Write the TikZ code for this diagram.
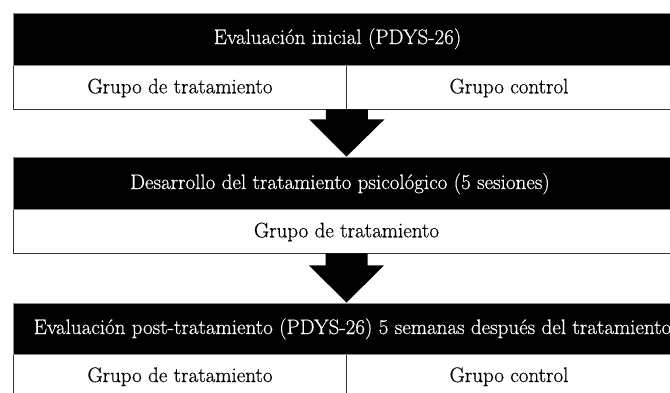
\documentclass[tikz,border=0pt]{standalone}
\usepackage{fontspec}
\setmainfont{Latin Modern Roman}[FakeBold=0.5]
\usetikzlibrary{calc}
\begin{document}
\begin{tikzpicture}[x=1pt,y=-1pt,
  bar/.style={fill=black, draw=black!45, line width=0.8pt, inner sep=0pt, minimum width=667},
  cell/.style={fill=white, draw=black!80, line width=0.8pt, inner sep=0pt},
  ttl/.style={text=white, anchor=base, inner sep=0pt, font=\fontsize{21}{24}\selectfont},
  lbl/.style={text=black, anchor=base, inner sep=0pt, font=\fontsize{21}{24}\selectfont},
  fatarrow/.style={fill=black}]
\useasboundingbox (0,0) rectangle (670,392);
\clip (0,0) rectangle (670,392);
% box 1
\node[cell, minimum width=333.5, minimum height=44] (c1l) at (179.75,87) {};
\node[cell, minimum width=333.5, minimum height=44] (c1r) at (513.25,87) {};
\node[bar, minimum height=52] (bar1) at (346.5,39) {};
\node[ttl] (t1) at (337.5,44) {Evaluación inicial (PDYS-26)};
\node[lbl] (l1a) at (180,93.3) {Grupo de tratamiento};
\node[lbl] (l1b) at (509,93.3) {Grupo control};
% box 2
\node[cell, minimum width=667, minimum height=44] (c2) at (346.5,231) {};
\node[bar, minimum height=52] (bar2) at (346.5,183) {};
\node[ttl] (t2) at (340,189) {Desarrollo del tratamiento psicológico (5 sesiones)};
\node[lbl] (l2) at (346.5,237.3) {Grupo de tratamiento};
% box 3
\node[cell, minimum width=333.5, minimum height=46] (c3l) at (179.75,377) {};
\node[cell, minimum width=333.5, minimum height=46] (c3r) at (513.25,377) {};
\node[bar, minimum height=51] (bar3) at (346.5,328.5) {};
\node[ttl] (t3) at (352.5,334) {Evaluación post-tratamiento (PDYS-26) 5 semanas después del tratamiento};
\node[lbl] (l3a) at (180,382) {Grupo de tratamiento};
\node[lbl] (l3b) at (509,382) {Grupo control};
% arrows
\fill[fatarrow] ($(c1l.south east)+(-21,0)$) -- ($(c1l.south east)+(-21,10)$) -- ($(c1l.south east)+(-37.5,10)$) -- (bar2.north) -- ($(c1l.south east)+(37.5,10)$) -- ($(c1l.south east)+(21,10)$) -- ($(c1l.south east)+(21,0)$) -- cycle;
\fill[fatarrow] ($(c2.south)+(-21,0)$) -- ($(c2.south)+(-21,12)$) -- ($(c2.south)+(-37.5,12)$) -- (bar3.north) -- ($(c2.south)+(37.5,12)$) -- ($(c2.south)+(21,12)$) -- ($(c2.south)+(21,0)$) -- cycle;
\end{tikzpicture}
\end{document}
